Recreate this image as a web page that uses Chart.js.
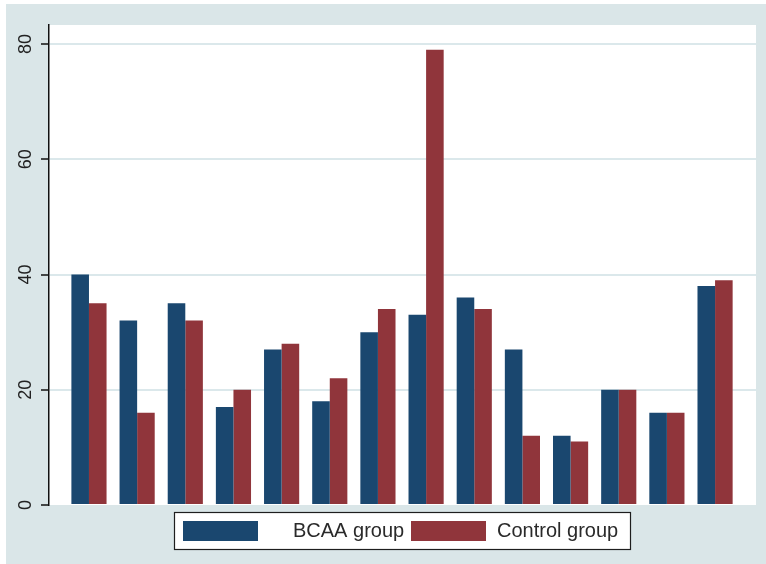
<!DOCTYPE html>
<html>
<head>
<meta charset="utf-8">
<script src="https://cdn.jsdelivr.net/npm/chart.js@4/dist/chart.umd.min.js"></script>
<style>
  html, body { margin: 0; padding: 0; background: #ffffff; }
  canvas { display: block; }
</style>
</head>
<body>
<canvas id="chart" width="766" height="564"></canvas>
<script>
// Group positions along the x axis (one pair of bars per group)
const groups = [0, 1, 2, 3, 4, 5, 6, 7, 8, 9, 10, 11, 12, 13];
const seriesNames = ['BCAA group', 'Control group'];
const bcaaValues = [40, 32, 35, 17, 27, 18, 30, 33, 36, 27, 12, 20, 16, 38];
const controlValues = [35, 16, 32, 20, 28, 22, 34, 79, 34, 12, 11, 20, 16, 39];
const yTicks = [0, 20, 40, 60, 80];

const NAVY = '#1a476f';
const MAROON = '#90353b';
const PAGE_BG = '#dae6e8';
const GRID = '#dbe8eb';
const INK = '#222222';
const FONT = '"Liberation Sans", Arial, sans-serif';

const toPoints = vals => groups.map((g, i) => ({ x: g, y: vals[i] }));

// Page background and white plot region
const backdrop = {
  id: 'backdrop',
  beforeDraw(chart) {
    const { ctx, chartArea: a } = chart;
    ctx.save();
    ctx.fillStyle = '#ffffff';
    ctx.fillRect(0, 0, chart.width, chart.height);
    ctx.fillStyle = PAGE_BG;
    ctx.fillRect(6, 4, chart.width - 6, chart.height - 4);
    ctx.fillStyle = '#ffffff';
    ctx.fillRect(a.left, a.top, a.right - a.left, a.bottom - a.top);
    ctx.restore();
  }
};

// Rotated y tick labels, placed at the scale's own tick positions
const yLabels = {
  id: 'yLabels',
  afterDraw(chart) {
    const { ctx } = chart;
    const y = chart.scales.y;
    ctx.save();
    ctx.fillStyle = INK;
    ctx.font = '18px ' + FONT;
    ctx.textAlign = 'center';
    ctx.textBaseline = 'middle';
    y.ticks.forEach(t => {
      const py = y.getPixelForValue(t.value);
      ctx.save();
      ctx.translate(y.left + 26, py);
      ctx.rotate(-Math.PI / 2);
      ctx.fillText(String(t.value), 0, 0);
      ctx.restore();
    });
    ctx.restore();
  }
};

// Boxed legend below the plot
const boxLegend = {
  id: 'boxLegend',
  afterDraw(chart) {
    const { ctx } = chart;
    ctx.save();
    ctx.fillStyle = '#ffffff';
    ctx.fillRect(174, 512, 456, 37);
    ctx.strokeStyle = '#1e1e1e';
    ctx.lineWidth = 1.2;
    ctx.strokeRect(174.5, 512.5, 456, 37);
    const items = [
      { sx: 183, tx: 293, color: NAVY },
      { sx: 411, tx: 497, color: MAROON }
    ];
    ctx.font = '20px ' + FONT;
    ctx.textBaseline = 'middle';
    ctx.textAlign = 'left';
    chart.data.datasets.forEach((ds, i) => {
      const it = items[i];
      ctx.fillStyle = it.color;
      ctx.fillRect(it.sx, 521, 75, 20);
      ctx.fillStyle = '#2a2a2a';
      ctx.fillText(ds.label, it.tx, 531.5);
    });
    ctx.restore();
  }
};

new Chart(document.getElementById('chart'), {
  type: 'bar',
  data: {
    datasets: [
      {
        label: seriesNames[0],
        data: toPoints(bcaaValues),
        backgroundColor: NAVY,
        borderColor: NAVY,
        borderWidth: 0
      },
      {
        label: seriesNames[1],
        data: toPoints(controlValues),
        backgroundColor: MAROON,
        borderColor: MAROON,
        borderWidth: 0
      }
    ]
  },
  options: {
    responsive: false,
    animation: false,
    devicePixelRatio: 1,
    layout: { padding: { top: 25, right: 10, bottom: 59, left: 0 } },
    datasets: { bar: { categoryPercentage: 0.73, barPercentage: 1.0 } },
    plugins: { legend: { display: false }, tooltip: { enabled: false } },
    scales: {
      x: {
        type: 'linear',
        min: -0.83,
        max: 13.85,
        display: false,
        afterBuildTicks: s => { s.ticks = []; }
      },
      y: {
        min: 0,
        max: 83.3,
        afterFit: s => { s.width = 49; },
        afterBuildTicks: s => { s.ticks = yTicks.map(v => ({ value: v })); },
        ticks: { display: false, includeBounds: false },
        grid: {
          color: ctx => (ctx.tick && ctx.tick.value === 0 ? 'rgba(0,0,0,0)' : GRID),
          lineWidth: 2,
          tickColor: '#111111',
          tickWidth: 1.5,
          tickLength: 8,
          drawTicks: true
        },
        border: { display: true, color: '#111111', width: 1.5 }
      }
    }
  },
  plugins: [backdrop, yLabels, boxLegend]
});
</script>
</body>
</html>
